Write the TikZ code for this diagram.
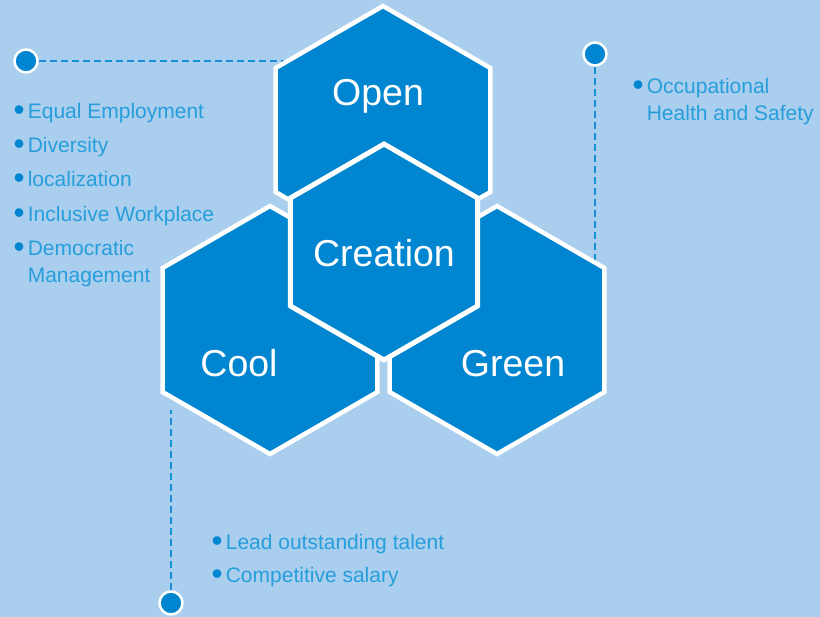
\documentclass[tikz,border=0pt]{standalone}
\usepackage{fontspec}
\setmainfont{Liberation Sans}
\usetikzlibrary{shapes.geometric}
\definecolor{bgblue}{RGB}{170,206,237}
\definecolor{hexblue}{RGB}{0,134,208}
\definecolor{txtblue}{RGB}{38,158,220}
\definecolor{lineblue}{RGB}{24,142,214}
\newcommand{\bul}{{\color{hexblue}\raisebox{-1.7pt}{\scalebox{1.5}{\textbullet}}}\hspace{3.3pt}}

\begin{document}
\begin{tikzpicture}[x=1pt, y=-1pt,
    hex/.style={regular polygon, regular polygon sides=6, shape border rotate=30, fill=hexblue, draw=white, line width=4.5pt, minimum size=248pt, inner sep=0pt},
    hexlabel/.style={text=white, font=\fontsize{37.5}{40}\selectfont, anchor=base, inner sep=0pt},
    dot/.style={circle, fill=hexblue, draw=white, line width=2.5pt, minimum size=23pt, inner sep=0pt},
    dashline/.style={lineblue, line width=2.6pt, dash pattern=on 7pt off 4pt},
    entry/.style={text=txtblue, font=\fontsize{21}{27}\selectfont, anchor=base west, align=left, inner sep=0pt}]

    \fill[bgblue] (0,0) rectangle (820,617);
    \useasboundingbox (0,0) rectangle (820,617);

    \node[dot] (dotL) at (26,61) {};
    \node[dot] (dotR) at (595,54) {};
    \node[dot] (dotB) at (171,603) {};
    \coordinate (endL) at (290,61);
    \coordinate (endR) at (595,266);
    \coordinate (endB) at (171,410);

    \draw[dashline] (dotL) -- (endL);
    \draw[dashline] (dotR) -- (endR);
    \draw[dashline] (dotB) -- (endB);

    \node[hex] (open) at (383,130) {};
    \node[hex] (cool) at (270,330) {};
    \node[hex] (green) at (497,330) {};
    \node[hex, minimum size=216pt, line width=5pt] (creation) at (384,252) {};

    \node[hexlabel] (openlabel) at (378,106) {Open};
    \node[hexlabel] (creationlabel) at (384,267) {Creation};
    \node[hexlabel] (coollabel) at (239,377) {Cool};
    \node[hexlabel] (greenlabel) at (513,377) {Green};

    \node[entry] (equal) at (13.3,119) {\bul Equal Employment};
    \node[entry] (diversity) at (13.3,153) {\bul Diversity};
    \node[entry] (local) at (13.3,187) {\bul localization};
    \node[entry] (inclusive) at (13.3,222) {\bul Inclusive Workplace};
    \node[entry] (democratic) at (13.3,283) {\bul Democratic\\\hphantom{\bul}Management};

    \node[entry] (safety) at (632.3,121) {\bul Occupational\\\hphantom{\bul}Health and Safety};

    \node[entry] (talent) at (211.3,550) {\bul Lead outstanding talent};
    \node[entry] (salary) at (211.3,583) {\bul Competitive salary};
\end{tikzpicture}
\end{document}
